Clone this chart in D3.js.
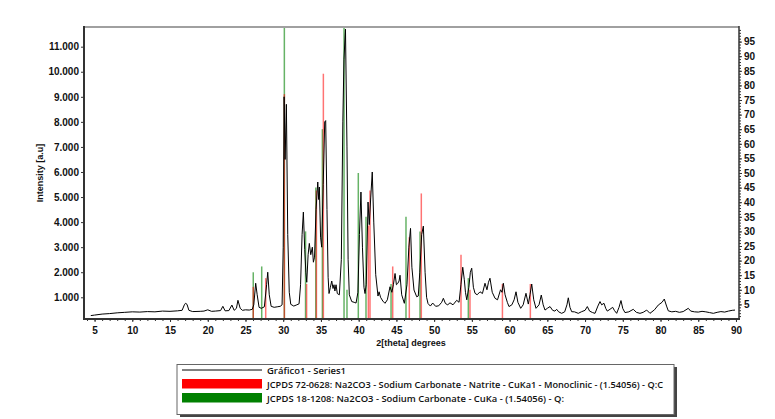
<!DOCTYPE html>
<html>
<head>
<meta charset="utf-8">
<script src="https://cdn.jsdelivr.net/npm/d3@7"></script>
<style>
  body { margin: 0; background: #fff; }
  svg { display: block; }
  .tick text { font-family: "Liberation Sans", Arial, sans-serif; font-weight: bold; fill: #111; }
</style>
</head>
<body>
<div id="chart"></div>
<script>
// Diffractogram (2theta, intensity)
const twoTheta = [4.5, 5, 6, 7, 8, 9, 10, 11, 12, 13, 14, 15, 16, 16.6, 16.9, 17.05, 17.25, 17.5, 18, 19, 19.5, 20, 20.5, 21, 21.7, 22.0, 22.3, 22.8, 23.2, 23.5, 23.8, 24.0, 24.3, 24.6, 25.0, 25.5, 25.9, 26.1, 26.35, 26.55, 26.8, 27.1, 27.5, 27.8, 27.95, 28.15, 28.4, 28.8, 29.2, 29.6, 29.85,
  30.0, 30.12, 30.25, 30.42, 30.6, 30.8, 31.0, 31.4, 31.8, 32.1, 32.3, 32.5, 32.67, 32.85, 33.0, 33.12, 33.3, 33.46, 33.65, 33.86, 34.0, 34.15, 34.35, 34.58, 34.7, 34.79, 34.95, 35.1, 35.3, 35.5, 35.63, 35.8, 35.95,
  36.07, 36.25, 36.43, 36.6, 36.73, 36.85, 37.0, 37.17, 37.44, 37.7, 37.9, 38.05, 38.25, 38.45, 38.6, 38.76, 39.08, 39.4, 39.65, 39.9, 40.1, 40.3, 40.5, 40.7, 40.84, 41.0, 41.24, 41.4, 41.6, 41.8, 42.0, 42.26, 42.56, 42.7, 42.9,
  43.2, 43.49, 43.8, 44.15, 44.4, 44.6, 44.82, 45.0, 45.17, 45.35, 45.48, 45.7, 46.05, 46.4, 46.65, 46.87, 47.05, 47.33, 47.69, 47.9, 48.1, 48.35, 48.57, 48.8, 49.0, 49.19, 49.5, 49.81, 50.2, 50.6, 51.0, 51.22, 51.5, 51.8,
  52.1, 52.5, 52.99, 53.3, 53.55, 53.79, 54.0, 54.15, 54.32, 54.6, 54.8, 54.98, 55.2, 55.42, 55.7, 56.08, 56.4, 56.74, 57.0, 57.2, 57.4, 57.7, 58.07, 58.4, 58.8, 59.0, 59.17, 59.4, 59.7, 59.92, 60.3, 60.6, 60.85, 61.1,
  61.47, 61.8, 62.17, 62.48, 62.7, 62.93, 63.2, 63.5, 63.9, 64.2, 64.45, 64.69, 65.0, 65.36, 65.7, 66.0, 66.24, 66.5, 66.9, 67.3, 67.6, 67.78, 68.0, 68.23, 68.6, 69.1, 69.5, 70.0, 70.3, 70.6, 71.0, 71.32, 71.7, 71.98,
  72.2, 72.51, 72.75, 72.95, 73.3, 73.66, 73.9, 74.19, 74.5, 74.76, 75.0, 75.29, 75.8, 76.39, 76.8, 77.28, 77.7, 78.17, 78.6, 79.2, 79.7, 80.2, 80.5, 80.8, 81.03, 81.5, 82.0, 82.5, 83.0, 83.68, 84.0, 84.5, 85.0,
  85.5, 86.0, 86.5, 87.0, 87.5, 88.0, 88.5, 89.0, 89.5, 89.87];
const intensity = [270, 290, 330, 350, 380, 400, 420, 410, 430, 420, 450, 440, 460, 480, 700, 760, 720, 480, 430, 440, 450, 500, 440, 450, 470, 640, 460, 470, 690, 480, 560, 880, 560, 480, 500, 490, 520, 700, 1560, 1100, 600, 560, 620, 1500, 2000, 1100, 640, 600, 620, 640, 700,
  3000, 9000, 6500, 8700, 3500, 1200, 720, 650, 700, 740, 1500, 3500, 4400, 2900, 2000, 1600, 2700, 3150, 2700, 3000, 2400, 2600, 4500, 5600, 4900, 5400, 3400, 3000, 5500, 8000, 8050, 4500, 1800,
  1150, 1400, 1650, 1350, 1500, 1250, 1500, 1150, 1100, 2500, 8000, 10500, 11700, 7000, 2500, 1100, 830, 800, 770, 1200, 3500, 5200, 3000, 1400, 1150, 1500, 4800, 3900, 5000, 6000, 4000, 1900, 1050, 1220, 1000,
  850, 760, 900, 1420, 1200, 1500, 1950, 1500, 1550, 1650, 1880, 1100, 760, 1500, 3000, 3750, 2200, 1290, 1020, 1050, 2000, 3500, 3840, 2000, 1000, 750, 650, 770, 640, 660, 800, 960, 750, 700,
  780, 700, 880, 800, 1500, 2200, 1700, 1200, 900, 1400, 2000, 2160, 1400, 1160, 1100, 1220, 1150, 1560, 1300, 1600, 1760, 1200, 960, 900, 1300, 1200, 1560, 1100, 800, 630, 700, 900, 1220, 800,
  560, 700, 1160, 730, 1100, 1530, 900, 560, 700, 1090, 700, 490, 560, 630, 480, 450, 520, 420, 360, 420, 700, 980, 600, 425, 420, 360, 420, 480, 630, 450, 390, 360, 650, 830,
  700, 760, 550, 450, 520, 600, 470, 360, 600, 870, 550, 390, 420, 520, 400, 360, 400, 490, 360, 500, 690, 800, 930, 650, 460, 420, 440, 400, 430, 560, 450, 420, 410,
  440, 420, 390, 360, 400, 430, 410, 450, 480, 490];

// JCPDS reference sticks (position, relative intensity %)
const redPos = [26.03, 27.68, 30.15, 33.10, 34.40, 35.32, 41.28, 41.50, 44.51, 46.71, 48.30, 53.56, 54.75, 59.05, 62.75];
const redRel = [11, 14, 77, 12, 44, 84, 32, 44, 18, 28, 43, 22, 10, 12, 12];
const greenPos = [26.03, 27.15, 30.15, 32.96, 34.32, 35.19, 38.06, 38.45, 39.95, 40.97, 44.29, 46.27, 48.13, 54.53];
const greenRel = [16, 18, 100, 30, 45, 65, 100, 10, 50, 35, 12, 35, 30, 14];

const xTicks = d3.range(5, 91, 5);
const yTicks = d3.range(1000, 11001, 1000);
const relTicks = d3.range(5, 96, 5);

const legendLabels = [
  "Gráfico1 - Series1",
  "JCPDS 72-0628: Na2CO3 - Sodium Carbonate - Natrite - CuKa1 - Monoclinic - (1.54056) - Q:C",
  "JCPDS 18-1208: Na2CO3 - Sodium Carbonate - CuKa - (1.54056) - Q:"
];

const width = 775, height = 419;
const margin = {top: 27, right: 36, bottom: 100, left: 84};

const svg = d3.select('#chart').append('svg')
  .attr('width', width)
  .attr('height', height);

const x = d3.scaleLinear().domain([3.6, 90.4]).range([margin.left, width - margin.right]);
const y = d3.scaleLinear().domain([134, 11785]).range([height - margin.bottom, margin.top]);
const yRel = d3.scaleLinear().domain([0, 100]).range([height - margin.bottom, margin.top]);

svg.append('defs').append('clipPath').attr('id', 'plot')
  .append('rect')
  .attr('x', margin.left).attr('y', margin.top)
  .attr('width', x.range()[1] - margin.left)
  .attr('height', y.range()[0] - margin.top);

const plot = svg.append('g').attr('clip-path', 'url(#plot)');

// green sticks first, red over them
plot.selectAll('.green').data(greenPos).enter().append('line')
  .attr('x1', d => x(d)).attr('x2', d => x(d))
  .attr('y1', yRel(0))
  .attr('y2', (d, i) => yRel(greenRel[i]))
  .attr('stroke', 'green').attr('stroke-opacity', 0.6).attr('stroke-width', 1.5);

plot.selectAll('.red').data(redPos).enter().append('line')
  .attr('x1', d => x(d)).attr('x2', d => x(d))
  .attr('y1', yRel(0))
  .attr('y2', (d, i) => yRel(redRel[i]))
  .attr('stroke', 'red').attr('stroke-opacity', 0.55).attr('stroke-width', 1.5);

// measured pattern
const line = d3.line()
  .x((d, i) => x(twoTheta[i]))
  .y(d => y(d));

plot.append('path')
  .datum(intensity)
  .attr('d', line)
  .attr('fill', 'none')
  .attr('stroke', '#000')
  .attr('stroke-width', 1);

// axes
const xAxis = svg.append('g')
  .attr('transform', `translate(0, ${y.range()[0]})`)
  .call(d3.axisBottom(x).tickValues(xTicks).tickSize(3).tickFormat(d3.format('d')));
xAxis.selectAll('text').attr('font-size', 10).attr('dy', '0.9em');

svg.append('g')
  .attr('transform', `translate(0, ${y.range()[0]})`)
  .call(d3.axisBottom(x).tickValues(d3.range(4, 91, 1)).tickSize(2).tickFormat(''))
  .select('.domain').remove();

const yAxis = svg.append('g')
  .attr('transform', `translate(${margin.left}, 0)`)
  .call(d3.axisLeft(y).tickValues(yTicks).tickSize(3)
    .tickFormat(d => d3.format(',')(d).replace(/,/g, '.')));
yAxis.selectAll('text').attr('font-size', 10).attr('x', -5);

const rAxis = svg.append('g')
  .attr('transform', `translate(${x.range()[1]}, 0)`)
  .call(d3.axisRight(yRel).tickValues(relTicks).tickSize(3));
rAxis.selectAll('text').attr('font-size', 10).attr('x', 5);

svg.append('g')
  .attr('transform', `translate(${x.range()[1]}, 0)`)
  .call(d3.axisRight(yRel).tickValues(d3.range(1, 100, 1)).tickSize(2).tickFormat(''))
  .select('.domain').remove();

svg.selectAll('.domain').attr('stroke', 'none');
svg.selectAll('.tick line').attr('stroke', '#333');

// frame
svg.append('line')
  .attr('x1', margin.left).attr('x2', x.range()[1])
  .attr('y1', margin.top).attr('y2', margin.top)
  .attr('stroke', '#a0a0a0').attr('stroke-width', 2);
svg.append('line')
  .attr('x1', margin.left).attr('x2', margin.left)
  .attr('y1', margin.top - 1).attr('y2', y.range()[0] + 1)
  .attr('stroke', '#333').attr('stroke-width', 2);
svg.append('line')
  .attr('x1', x.range()[1]).attr('x2', x.range()[1])
  .attr('y1', margin.top - 1).attr('y2', y.range()[0] + 1)
  .attr('stroke', '#333').attr('stroke-width', 1.5);
svg.append('line')
  .attr('x1', margin.left - 1).attr('x2', x.range()[1] + 1)
  .attr('y1', y.range()[0]).attr('y2', y.range()[0])
  .attr('stroke', '#333').attr('stroke-width', 2);

// axis titles
svg.append('text')
  .attr('x', 411).attr('y', 346)
  .attr('text-anchor', 'middle')
  .attr('font-family', '"Liberation Sans", Arial, sans-serif')
  .attr('font-weight', 'bold').attr('font-size', 9)
  .attr('fill', '#111')
  .text('2[theta] degrees');

svg.append('text')
  .attr('transform', 'translate(43, 173) rotate(-90)')
  .attr('text-anchor', 'middle')
  .attr('font-family', '"Liberation Sans", Arial, sans-serif')
  .attr('font-weight', 'bold').attr('font-size', 9)
  .attr('fill', '#111')
  .text('Intensity [a.u]');

// legend
const lg = svg.append('g');
lg.append('rect')
  .attr('x', 180).attr('y', 367).attr('width', 497).attr('height', 50)
  .attr('fill', '#444');
lg.append('rect')
  .attr('x', 177).attr('y', 364.5).attr('width', 497).attr('height', 50)
  .attr('fill', '#fff').attr('stroke', '#666').attr('stroke-width', 1);

lg.append('line')
  .attr('x1', 182).attr('x2', 262).attr('y1', 370).attr('y2', 370)
  .attr('stroke', '#000').attr('stroke-width', 1);
lg.append('rect')
  .attr('x', 182).attr('y', 379).attr('width', 80).attr('height', 9.5)
  .attr('fill', '#ff0000');
lg.append('rect')
  .attr('x', 182).attr('y', 393).attr('width', 80).attr('height', 9.5)
  .attr('fill', '#008000');

const textWidths = [79, 396, 297];
lg.selectAll('.lt').data(legendLabels).enter().append('text')
  .attr('x', 267)
  .attr('y', (d, i) => 373.5 + i * 14)
  .attr('font-family', '"Open Sans", sans-serif')
  .attr('font-weight', 600)
  .attr('font-size', 9)
  .attr('fill', '#111')
  .attr('textLength', (d, i) => textWidths[i])
  .attr('lengthAdjust', 'spacingAndGlyphs')
  .text(d => d);
</script>
</body>
</html>
